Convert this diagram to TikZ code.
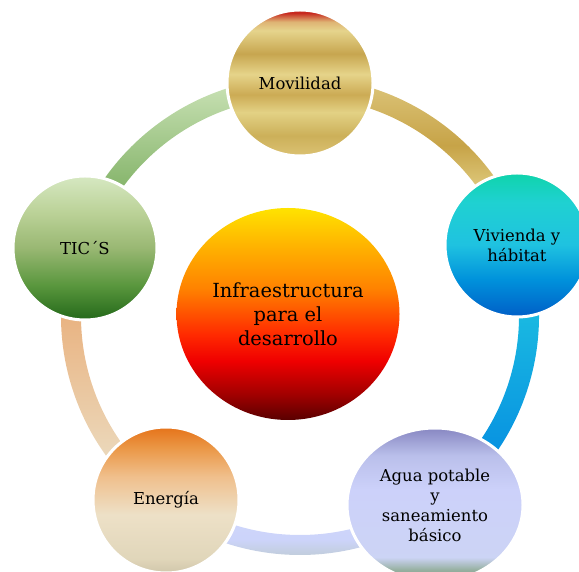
\documentclass[tikz,border=0pt]{standalone}
\usepackage{fontspec}
\setmainfont{DejaVu Serif}
\usetikzlibrary{shapes.geometric}

% colores de los circulos
\pgfdeclareverticalshading{movilidad}{100bp}{%
  rgb(0bp)=(0.86,0.76,0.45); rgb(25bp)=(0.86,0.76,0.45);
  rgb(32bp)=(0.80,0.69,0.35); rgb(40bp)=(0.89,0.82,0.52);
  rgb(46bp)=(0.80,0.67,0.33); rgb(53bp)=(0.90,0.83,0.54);
  rgb(60bp)=(0.78,0.65,0.31); rgb(68bp)=(0.90,0.83,0.55);
  rgb(71bp)=(0.87,0.70,0.45); rgb(74bp)=(0.78,0.16,0.12);
  rgb(100bp)=(0.78,0.16,0.12)}
\pgfdeclareverticalshading{vivienda}{100bp}{%
  rgb(0bp)=(0.00,0.37,0.78); rgb(25bp)=(0.00,0.37,0.78);
  rgb(38bp)=(0.00,0.57,0.86); rgb(50bp)=(0.12,0.76,0.88);
  rgb(65bp)=(0.12,0.82,0.82); rgb(75bp)=(0.06,0.83,0.67);
  rgb(100bp)=(0.06,0.83,0.67)}
\pgfdeclareverticalshading{agua}{100bp}{%
  rgb(0bp)=(0.47,0.59,0.49); rgb(25bp)=(0.47,0.59,0.49);
  rgb(29bp)=(0.59,0.69,0.63); rgb(33bp)=(0.80,0.83,0.96);
  rgb(55bp)=(0.80,0.82,0.98); rgb(66bp)=(0.73,0.75,0.92);
  rgb(75bp)=(0.53,0.53,0.76); rgb(100bp)=(0.53,0.53,0.76)}
\pgfdeclareverticalshading{energia}{100bp}{%
  rgb(0bp)=(0.82,0.78,0.67); rgb(25bp)=(0.82,0.78,0.67);
  rgb(30bp)=(0.88,0.84,0.73); rgb(45bp)=(0.93,0.88,0.78);
  rgb(58bp)=(0.94,0.75,0.55); rgb(68bp)=(0.92,0.59,0.27);
  rgb(75bp)=(0.90,0.45,0.10); rgb(100bp)=(0.90,0.45,0.10)}
\pgfdeclareverticalshading{tics}{100bp}{%
  rgb(0bp)=(0.14,0.41,0.10); rgb(25bp)=(0.14,0.41,0.10);
  rgb(37bp)=(0.35,0.59,0.24); rgb(50bp)=(0.60,0.72,0.45);
  rgb(62bp)=(0.73,0.82,0.59); rgb(75bp)=(0.84,0.91,0.76);
  rgb(100bp)=(0.84,0.91,0.76)}
\pgfdeclareverticalshading{infra}{100bp}{%
  rgb(0bp)=(0.35,0.00,0.00); rgb(25bp)=(0.35,0.00,0.00);
  rgb(31bp)=(0.63,0.00,0.00); rgb(39bp)=(0.94,0.00,0.00);
  rgb(45bp)=(1.00,0.16,0.00); rgb(56bp)=(1.00,0.51,0.00);
  rgb(66bp)=(1.00,0.70,0.00); rgb(75bp)=(1.00,0.89,0.00);
  rgb(100bp)=(1.00,0.89,0.00)}
% colores del anillo
\pgfdeclareverticalshading{arcooro}{100bp}{%
  rgb(0bp)=(0.80,0.69,0.35); rgb(25bp)=(0.80,0.69,0.35);
  rgb(40bp)=(0.89,0.82,0.53); rgb(55bp)=(0.78,0.64,0.28);
  rgb(75bp)=(0.87,0.78,0.49); rgb(100bp)=(0.87,0.78,0.49)}
\pgfdeclareverticalshading{arcolila}{100bp}{%
  rgb(0bp)=(0.51,0.65,0.55); rgb(25bp)=(0.51,0.65,0.55);
  rgb(33bp)=(0.75,0.80,0.84); rgb(45bp)=(0.80,0.83,0.98);
  rgb(75bp)=(0.82,0.85,0.99); rgb(100bp)=(0.82,0.85,0.99)}

\tikzset{
  etapa/.style={circle, minimum size=146bp, inner sep=0pt, draw=white,
    line width=3bp, shade, align=center, font=\fontsize{16.5}{20}\selectfont},
}

\begin{document}
\begin{tikzpicture}[x=1bp,y=1bp]
  \clip (0,0) rectangle (579,572);
  \coordinate (c) at (300,256);
  % anillo
  \begin{scope}[shift={(c)}]
    \shade[top color={rgb,255:red,205;green,228;blue,185}, bottom color={rgb,255:red,95;green,155;blue,65}]
      (162:219) arc[start angle=162, end angle=90, radius=219bp] -- (90:239) arc[start angle=90, end angle=162, radius=239bp] -- cycle;
    \shade[shading=arcooro]
      (90:219) arc[start angle=90, end angle=18, radius=219bp] -- (18:239) arc[start angle=18, end angle=90, radius=239bp] -- cycle;
    \shade[top color={rgb,255:red,35;green,205;blue,225}, bottom color={rgb,255:red,0;green,130;blue,225}]
      (18:219) arc[start angle=18, end angle=-54, radius=219bp] -- (-54:239) arc[start angle=-54, end angle=18, radius=239bp] -- cycle;
    \shade[shading=arcolila]
      (-54:219) arc[start angle=-54, end angle=-126, radius=219bp] -- (-126:239) arc[start angle=-126, end angle=-54, radius=239bp] -- cycle;
    \shade[top color={rgb,255:red,232;green,160;blue,100}, bottom color={rgb,255:red,236;green,230;blue,208}]
      (-126:219) arc[start angle=-126, end angle=-198, radius=219bp] -- (-198:239) arc[start angle=-198, end angle=-126, radius=239bp] -- cycle;
  \end{scope}

  \node[ellipse, minimum width=223bp, minimum height=212bp, inner sep=0pt, shade, shading=infra,
    align=center, font=\fontsize{19.5}{24}\selectfont] (centro) at (288,258) {Infraestructura\\para el\\desarrollo};

  \node[etapa, shading=movilidad] (mov) at (300,489) {Movilidad};
  \node[etapa, shading=vivienda, minimum size=144bp] (viv) at (517,327) {Vivienda y\\hábitat};
  \node[etapa, ellipse, shading=agua, minimum width=176bp, minimum height=154bp] (agua) at (435,67) {Agua potable\\y\\saneamiento\\básico};
  \node[etapa, shading=energia] (ener) at (166,72) {Energía};
  \node[etapa, shading=tics, minimum size=144bp] (tic) at (85,324) {TIC´S};
\end{tikzpicture}
\end{document}
